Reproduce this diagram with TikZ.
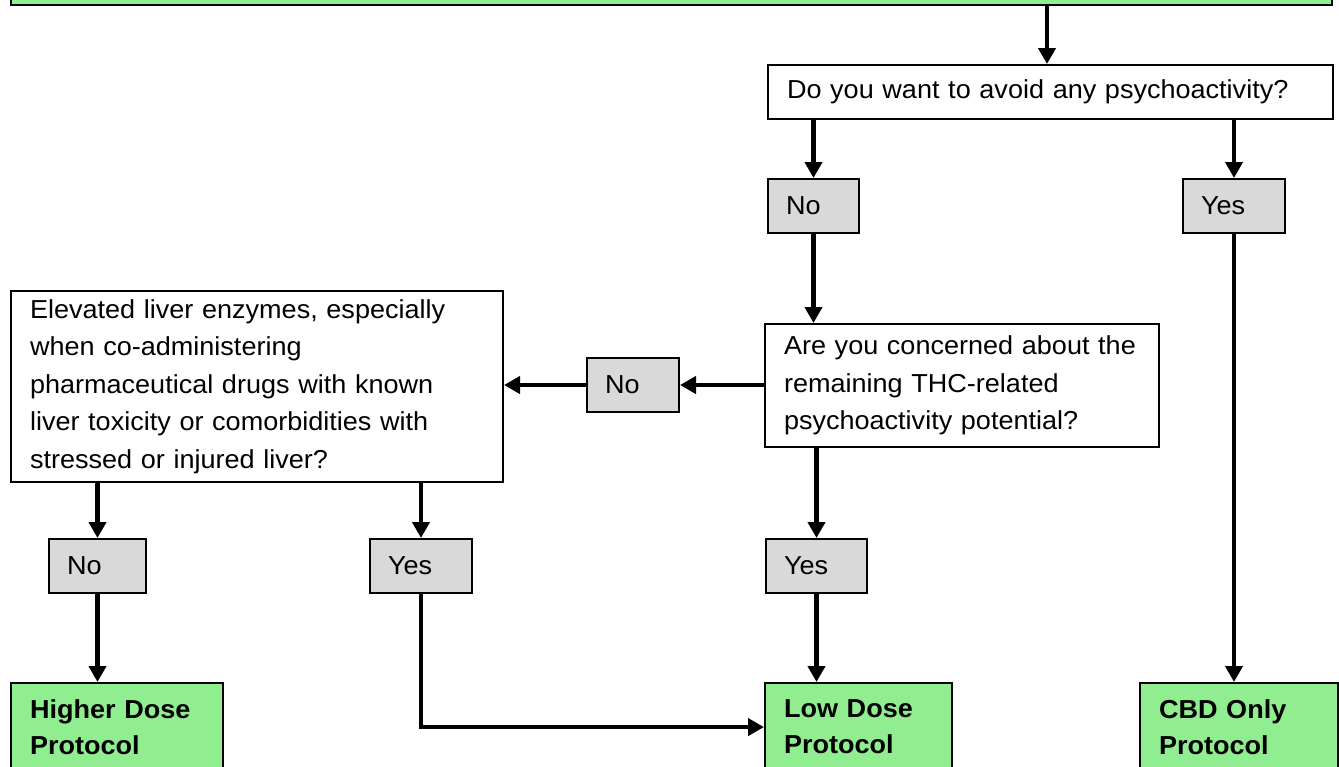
\documentclass[tikz,border=0pt]{standalone}
\usepackage{fontspec}
\setmainfont{Liberation Sans}[FakeStretch=1.04]
\usetikzlibrary{arrows.meta}
\definecolor{boxgreen}{RGB}{144,238,144}
\definecolor{boxgrey}{RGB}{217,217,217}
\newcommand{\chartfont}{\fontsize{26}{37.5}\selectfont}
\newcommand{\outcomefont}{\fontsize{26}{36}\selectfont\bfseries}

\tikzset{
  boxbase/.style={draw=black, line width=2pt, anchor=north west, align=left},
  question/.style={boxbase, fill=white, inner xsep=19pt, inner ysep=0pt, font=\chartfont},
  choice/.style={boxbase, fill=boxgrey, inner xsep=18pt, inner ysep=0pt,
    minimum height=54pt, font=\chartfont},
  outcome/.style={boxbase, fill=boxgreen, inner xsep=19pt, inner ysep=17pt,
    font=\outcomefont},
  conn/.style={line width=4.2pt, -{Triangle[length=16pt,width=17pt]}}
}

\begin{document}
\begin{tikzpicture}[x=1pt,y=-1pt]
\useasboundingbox (0,0) rectangle (1339,766);

% entry box along the top edge
\node[boxbase, fill=boxgreen, anchor=south west, minimum width=1321pt,
  minimum height=60pt] (start) at (10,6) {};

% questions
\node[question, text width=527pt, minimum height=54pt] (q1) at (767,64)
  {\mbox{Do you want to avoid any psychoactivity?}};
\node[question, text width=356pt, minimum height=123pt] (q2) at (764,323)
  {\mbox{Are you concerned about the}\\\mbox{remaining THC-related}\\\mbox{psychoactivity potential?}};
\node[question, text width=454pt, minimum height=191pt] (q3) at (10,290)
  {\mbox{Elevated liver enzymes, especially}\\\mbox{when co-administering}\\\mbox{pharmaceutical drugs with known}\\\mbox{liver toxicity or comorbidities with}\\\mbox{stressed or injured liver?}};

% answers
\node[choice, text width=55pt] (noTop) at (767,178) {No};
\node[choice, text width=66pt] (yesTop) at (1182,178) {Yes};
\node[choice, text width=56pt] (noMid) at (586,357) {No};
\node[choice, text width=61pt] (noLeft) at (48,538) {No};
\node[choice, text width=66pt] (yesLeft) at (369,538) {Yes};
\node[choice, text width=65pt] (yesMid) at (765,538) {Yes};

% protocols
\node[outcome, text width=174pt] (higher) at (10,682) {Higher Dose\\Protocol};
\node[outcome, text width=149pt] (low) at (764,682) {Low Dose\\Protocol};
\node[outcome, text width=160pt] (cbd) at (1139,682) {CBD Only\\Protocol};

% connectors
\coordinate (topdrop) at (1047,0);
\draw[conn] (start.south -| topdrop) -- (q1.north -| topdrop);
\draw[conn] (q1.south -| noTop.north) -- (noTop.north);
\draw[conn] (q1.south -| yesTop.north) -- (yesTop.north);
\draw[conn] (noTop.south) -- (q2.north -| noTop.south);
\draw[conn] (yesTop.south) -- (cbd.north -| yesTop.south);
\draw[conn] (q2.west |- noMid.east) -- (noMid.east);
\draw[conn] (noMid.west) -- (q3.east |- noMid.west);
\draw[conn] (q3.south -| noLeft.north) -- (noLeft.north);
\draw[conn] (noLeft.south) -- (higher.north -| noLeft.south);
\draw[conn] (q3.south -| yesLeft.north) -- (yesLeft.north);
\draw[conn] (q2.south -| yesMid.north) -- (yesMid.north);
\draw[conn] (yesMid.south) -- (low.north -| yesMid.south);
\draw[conn] (yesLeft.south) |- (low.west);
\end{tikzpicture}
\end{document}
